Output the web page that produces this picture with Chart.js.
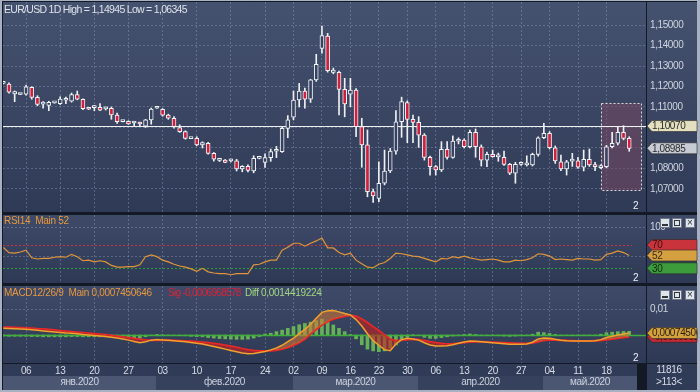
<!DOCTYPE html>
<html>
<head>
<meta charset="utf-8">
<script src="https://cdn.jsdelivr.net/npm/chart.js@4.4.0/dist/chart.umd.min.js"></script>
<style>
  html, body { margin: 0; padding: 0; }
  body { width: 700px; height: 392px; background: #a7b1c2; position: relative; overflow: hidden;
         font-family: "Liberation Sans", Arial, sans-serif; }
  .abs { position: absolute; }
  #frame { left: 2px; top: 1px; width: 695px; height: 389px; background: #141926; }
  .bgMain { background: linear-gradient(#45526f, #2f3a56); }
  .bgSub { background: linear-gradient(#3e4a68, #2e3955); }
  canvas { position: absolute; left: 0; }
  .txt { position: absolute; white-space: nowrap; font-size: 10px; line-height: 12px; letter-spacing: -0.3px; }
  .btn { position: absolute; width: 10px; height: 10px; background: #dfe3ea; border: 1px solid #6f7786; box-sizing: border-box; }
  .btn.min::after { content: ""; position: absolute; left: 1px; right: 1px; bottom: 1px; height: 2px; background: #30343c; }
  .btn.max::after { content: ""; position: absolute; left: 1px; top: 1px; width: 4px; height: 4px; border: 1px solid #30343c; }
  .btn.cls { font-size: 10px; line-height: 8px; text-align: center; color: #30343c; }
</style>
</head>
<body>
<div id="frame" class="abs"></div>
<div class="abs bgMain" style="left:3px;top:2px;width:643px;height:210px"></div>
<div class="abs bgMain" style="left:647px;top:2px;width:50px;height:210px"></div>
<div class="abs bgSub" style="left:3px;top:215px;width:643px;height:68px"></div>
<div class="abs bgSub" style="left:647px;top:215px;width:50px;height:68px"></div>
<div class="abs bgSub" style="left:3px;top:286px;width:643px;height:77px"></div>
<div class="abs bgSub" style="left:647px;top:286px;width:50px;height:77px"></div>
<div class="abs" style="left:3px;top:364px;width:634px;height:26px;background:#303b57"></div>
<div class="abs" style="left:647px;top:364px;width:50px;height:26px;background:#303b57"></div>

<canvas id="mainCanvas" width="700" height="213" style="top:0"></canvas>
<canvas id="rsiCanvas" width="700" height="72" style="top:213px"></canvas>
<canvas id="macdCanvas" width="700" height="107" style="top:285px"></canvas>

<div class="txt" style="left:4px;top:3px;font-size:10.5px;letter-spacing:-0.7px;color:#dde2ea">EUR/USD 1D High = 1,14945 Low = 1,06345</div>
<div class="txt" style="left:4px;top:215px;color:#e8983c">RSI14&nbsp; Main 52</div>
<div class="txt" style="left:4px;top:287px;color:#e8983c">MACD12/26/9&nbsp; Main 0,0007450646</div>
<div class="txt" style="left:168px;top:287px;letter-spacing:-0.7px;color:#d8243a">Sig -0,0006968578</div>
<div class="txt" style="left:245px;top:287px;color:#a4d880">Diff 0,0014419224</div>
<div class="txt" style="left:633px;top:200px;color:#eef0f4">2</div>
<div class="txt" style="left:633px;top:272px;color:#eef0f4">2</div>
<div class="txt" style="left:633px;top:352px;color:#eef0f4">2</div>
<div class="txt" style="left:652px;top:364px;width:34px;text-align:center;color:#d8dce6">11816</div>
<div class="txt" style="left:652px;top:376px;width:34px;text-align:center;color:#d8dce6">&gt;113&lt;</div>

<div class="btn min" style="left:660px;top:218px"></div>
<div class="btn max" style="left:672px;top:218px"></div>
<div class="btn cls" style="left:685px;top:218px">×</div>
<div class="btn min" style="left:660px;top:290px"></div>
<div class="btn max" style="left:672px;top:290px"></div>
<div class="btn cls" style="left:685px;top:290px">×</div>

<script>
// EUR/USD дневные свечи, 111 баров (янв - май 2020)
const open = [1.1215,1.1212,1.1164,1.1161,1.1162,1.1196,1.1147,1.1114,1.1108,1.1120,
  1.1116,1.1133,1.1128,1.1160,1.1138,1.1091,1.1097,1.1098,1.1091,1.1094,
  1.1061,1.1029,1.1030,1.1022,1.1023,1.1007,1.1037,1.1094,1.1089,1.1061,
  1.1045,1.0999,1.0980,1.0946,1.0947,1.0915,1.0923,1.0874,1.0840,1.0841,
  1.0837,1.0837,1.0798,1.0810,1.0788,1.0849,1.0830,1.0853,1.0884,1.0882,
  1.0996,1.1050,1.1134,1.1178,1.1138,1.1232,1.1386,1.1446,1.1269,1.1269,
  1.1186,1.1162,1.1183,1.1004,1.0915,1.0687,1.0654,1.0728,1.0788,1.0885,
  1.1028,1.1121,1.1040,1.1025,1.0963,1.0854,1.0809,1.0793,1.0893,1.0854,
  1.0933,1.0939,1.0906,1.0977,1.0906,1.0841,1.0869,1.0857,1.0854,1.0820,
  1.0777,1.0820,1.0817,1.0817,1.0869,1.0950,1.0972,1.0901,1.0833,1.0798,
  1.0836,1.0837,1.0807,1.0845,1.0817,1.0804,1.0809,1.0906,1.0923,1.0977,1.0947];
const high = [1.1220,1.1218,1.1178,1.1165,1.1207,1.1199,1.1155,1.1126,1.1128,1.1124,
  1.1150,1.1148,1.1168,1.1178,1.1140,1.1093,1.1108,1.1117,1.1100,1.1100,
  1.1070,1.1033,1.1033,1.1030,1.1027,1.1040,1.1095,1.1098,1.1092,1.1065,
  1.1053,1.1013,1.0984,1.0950,1.0955,1.0930,1.0928,1.0878,1.0850,1.0844,
  1.0846,1.0845,1.0814,1.0818,1.0862,1.0853,1.0872,1.0895,1.0908,1.1005,
  1.1058,1.1178,1.1215,1.1192,1.1235,1.1357,1.1495,1.1459,1.1290,1.1275,
  1.1240,1.1240,1.1190,1.1045,1.0988,1.0700,1.0833,1.0890,1.0898,1.1083,
  1.1148,1.1130,1.1061,1.1053,1.0970,1.0860,1.0815,1.0931,1.0931,1.0959,
  1.0950,1.0945,1.0988,1.0993,1.0915,1.0880,1.0890,1.0875,1.0885,1.0825,
  1.0830,1.0832,1.0862,1.0875,1.0955,1.1020,1.0980,1.0910,1.0865,1.0840,
  1.0874,1.0855,1.0890,1.0895,1.0830,1.0818,1.0913,1.0977,1.1001,1.1009,1.0955];
const low = [1.1212,1.1168,1.1126,1.1160,1.1158,1.1138,1.1106,1.1094,1.1082,1.1118,
  1.1112,1.1116,1.1124,1.1135,1.1087,1.1087,1.1082,1.1082,1.1085,1.1040,
  1.1020,1.1027,1.1015,1.1008,1.1005,1.1000,1.1016,1.1093,1.1055,1.1040,
  1.0997,1.0976,1.0943,1.0945,1.0911,1.0900,1.0870,1.0836,1.0834,1.0828,
  1.0832,1.0788,1.0784,1.0783,1.0779,1.0847,1.0805,1.0835,1.0853,1.0878,
  1.0950,1.1037,1.1100,1.1094,1.1122,1.1225,1.1362,1.1270,1.1262,1.1061,
  1.1052,1.1101,1.0955,1.0806,1.0662,1.0634,1.0638,1.0720,1.0780,1.0870,
  1.0952,1.0926,1.0926,1.0903,1.0841,1.0768,1.0768,1.0785,1.0845,1.0850,
  1.0920,1.0900,1.0900,1.0855,1.0812,1.0809,1.0855,1.0835,1.0815,1.0770,
  1.0728,1.0815,1.0812,1.0812,1.0860,1.0945,1.0895,1.0825,1.0790,1.0768,
  1.0810,1.0800,1.0788,1.0810,1.0790,1.0800,1.0803,1.0900,1.0915,1.0940,1.0884];
const close = [1.1217,1.1172,1.1175,1.1163,1.1199,1.1147,1.1113,1.1116,1.1123,1.1122,
  1.1139,1.1135,1.1160,1.1138,1.1092,1.1089,1.1099,1.1085,1.1093,1.1061,
  1.1028,1.1031,1.1018,1.1024,1.1017,1.1037,1.1090,1.1096,1.1060,1.1045,
  1.1004,1.0980,1.0947,1.0948,1.0915,1.0926,1.0874,1.0846,1.0842,1.0830,
  1.0839,1.0798,1.0810,1.0791,1.0850,1.0851,1.0853,1.0882,1.0886,1.0996,
  1.1037,1.1134,1.1178,1.1138,1.1232,1.1308,1.1448,1.1277,1.1280,1.1186,
  1.1115,1.1183,1.1004,1.0915,1.0687,1.0666,1.0728,1.0788,1.0885,1.1028,
  1.1126,1.1040,1.1025,1.0963,1.0854,1.0809,1.0793,1.0893,1.0854,1.0934,
  1.0935,1.0906,1.0977,1.0906,1.0841,1.0869,1.0858,1.0859,1.0820,1.0777,
  1.0820,1.0828,1.0828,1.0869,1.0950,1.0972,1.0901,1.0837,1.0798,1.0833,
  1.0838,1.0807,1.0845,1.0817,1.0809,1.0812,1.0906,1.0923,1.0977,1.0947,1.08985];

// RSI(14)
const rsi = [66,57,56,58,61,48,46,47,47,49, 50,49,54,50,43,44,41,43,41,35,
  32,32,33,33,36,50,53,50,44,41, 37,34,32,29,25,30,24,22,21,21,
  19,21,21,21,36,37,41,44,44,61, 66,73,73,68,73,77,82,65,65,57,
  53,56,44,38,32,31,37,40,47,56, 55,53,51,50,47,44,41,47,46,50,
  48,51,48,46,44,45,46,44,41,41, 44,43,45,48,55,54,51,45,46,45,
  44,47,46,46,44,45,54,56,60,57,52];

// MACD(12,26,9): основная, сигнальная, гистограмма
const macdMain = [.0026,.0025,.0024,.0023,.0022,.0020,.0018,.0016,.0014,.0012,
  .0010,.0008,.0007,.0005,.0002,.0000,-.0002,-.0004,-.0006,-.0009,
  -.0012,-.0016,-.0020,-.0025,-.0030,-.0026,-.0020,-.0018,-.0019,-.0020,
  -.0022,-.0024,-.0026,-.0029,-.0032,-.0035,-.0040,-.0045,-.0050,-.0055,
  -.0060,-.0065,-.0070,-.0073,-.0072,-.0068,-.0064,-.0058,-.0050,-.0040,
  -.0026,-.0012,.0005,.0022,.0042,.0065,.0088,.0094,.0095,.0090,
  .0084,.0078,.0060,.0035,.0005,-.0022,-.0040,-.0057,-.0061,-.0035,
  -.0018,-.0013,-.0016,-.0020,-.0030,-.0039,-.0043,-.0043,-.0042,-.0038,
  -.0032,-.0027,-.0023,-.0024,-.0026,-.0028,-.0030,-.0032,-.0034,-.0036,
  -.0036,-.0036,-.0035,-.0028,-.0015,-.0012,-.0013,-.0017,-.0020,-.0022,
  -.0023,-.0023,-.0023,-.0023,-.0022,-.0018,-.0010,-.0005,.0000,.0004,.0007450646];
const macdSig = [.0030,.0030,.0029,.0028,.0027,.0026,.0024,.0023,.0021,.0019,
  .0017,.0015,.0013,.0011,.0009,.0007,.0005,.0003,.0001,-.0002,
  -.0005,-.0008,-.0011,-.0014,-.0017,-.0019,-.0020,-.0020,-.0020,-.0020,
  -.0021,-.0022,-.0023,-.0024,-.0026,-.0028,-.0030,-.0033,-.0036,-.0040,
  -.0044,-.0048,-.0053,-.0057,-.0060,-.0062,-.0062,-.0061,-.0059,-.0055,
  -.0049,-.0040,-.0030,-.0016,.0005,.0022,.0039,.0052,.0062,.0068,
  .0073,.0077,.0073,.0062,.0048,.0032,.0017,.0000,-.0016,-.0022,
  -.0020,-.0018,-.0017,-.0018,-.0021,-.0026,-.0030,-.0033,-.0035,-.0034,
  -.0032,-.0029,-.0027,-.0026,-.0026,-.0027,-.0028,-.0029,-.0030,-.0031,
  -.0032,-.0033,-.0033,-.0031,-.0026,-.0021,-.0019,-.0019,-.0020,-.0021,
  -.0022,-.0023,-.0023,-.0023,-.0022,-.0021,-.0019,-.0016,-.0013,-.0010,-.0006968578];
const macdDiff = [-.0004,-.0005,-.0005,-.0005,-.0005,-.0006,-.0006,-.0007,-.0007,-.0007,
  -.0007,-.0007,-.0006,-.0006,-.0007,-.0007,-.0007,-.0007,-.0007,-.0007,
  -.0007,-.0008,-.0009,-.0011,-.0013,-.0007,.0000,.0002,.0001,.0000,
  -.0001,-.0002,-.0003,-.0005,-.0006,-.0007,-.0010,-.0012,-.0014,-.0015,
  -.0016,-.0017,-.0017,-.0016,-.0012,-.0006,.0004,.0007,.0013,.0019,
  .0026,.0033,.0040,.0045,.0050,.0056,.0061,.0052,.0039,.0026,
  .0013,.0002,-.0015,-.0038,-.0055,-.0062,-.0065,-.0062,-.0052,-.0039,
  -.0020,-.0009,.0001,-.0002,-.0009,-.0013,-.0013,-.0010,-.0007,-.0004,
  .0000,.0002,.0004,.0002,.0000,-.0001,-.0002,-.0003,-.0004,-.0005,
  -.0004,-.0003,-.0002,.0003,.0011,.0009,.0006,.0002,.0000,-.0001,
  -.0001,.0000,.0000,.0000,.0000,.0003,.0009,.0011,.0013,.0014,.0014419224];

// подписи оси времени (номер бара -> число)
const dateTickIdx = [4,10,16,22,28,34,40,46,51,56,61,66,71,76,81,86,91,96,101,106];
const dateTickText = ['06','13','20','27','03','10','17','24','02','09','16','23','30','06','13','20','27','04','11','18'];
const months = ['янв.2020','фев.2020','мар.2020','апр.2020','май.2020'];
const monthEdges = [-0.6, 26.9, 50.9, 72.9, 94.9, 111.4];

const priceTicks = [1.07,1.08,1.09,1.10,1.11,1.12,1.13,1.14,1.15];
const levelPrice = 1.1007;           // горизонтальная линия
const selBox = { from: 105, to: 112, top: 1.1118, bottom: 1.0695 };
const rsiLevels = { hi: 70, lo: 30 };

const X_MIN = -0.05, X_MAX = 112.95;
const GRID = 'rgba(150,168,200,0.38)';
const FONT = { family: '"Liberation Sans", Arial, sans-serif', size: 10 };
const idx = close.map((_, i) => i);

function xAxis(showLabels, height) {
  return {
    type: 'linear', min: X_MIN, max: X_MAX, offset: false,
    afterBuildTicks: s => { s.ticks = dateTickIdx.map(v => ({ value: v })); },
    afterFit: s => { s.height = height; },
    grid: { color: GRID, drawTicks: false, offset: false },
    border: { display: false, dash: [2, 2] },
    ticks: { display: showLabels, autoSkip: false, maxRotation: 0, padding: 2, color: '#d6dbe4', font: FONT,
      callback: (v, k) => dateTickText[k] }
  };
}

function yAxis(min, max, ticks, fmt) {
  return {
    position: 'right', min: min, max: max,
    afterBuildTicks: s => { s.ticks = ticks.map(v => ({ value: v })); },
    // без запаса под крайние подписи
    afterFit: s => { s.width = 51; s.paddingTop = 0; s.paddingBottom = 0; },
    grid: { color: GRID, drawTicks: false },
    border: { display: false, dash: [2, 2] },
    ticks: { padding: 4, color: '#cfd5df', font: FONT, callback: fmt }
  };
}

// ярлык с "клювом" на правой шкале
function drawTag(ctx, yc, fill, text, textColor) {
  const x0 = 647, x1 = 697, h = 11;
  ctx.save();
  ctx.beginPath();
  ctx.moveTo(x0, yc);
  ctx.lineTo(x0 + 5, yc - h / 2);
  ctx.lineTo(x1, yc - h / 2);
  ctx.lineTo(x1, yc + h / 2);
  ctx.lineTo(x0 + 5, yc + h / 2);
  ctx.closePath();
  ctx.fillStyle = fill;
  ctx.fill();
  ctx.strokeStyle = 'rgba(40,40,40,0.6)';
  ctx.lineWidth = 1;
  ctx.stroke();
  ctx.clip();
  ctx.fillStyle = textColor;
  ctx.font = '10px "Liberation Sans", Arial, sans-serif';
  ctx.textBaseline = 'middle';
  ctx.fillText(text, x0 + 5, yc + 0.5);
  ctx.restore();
}

// узкий шрифт для подписей на холстах
const tightText = {
  id: 'tightText',
  beforeDraw(chart) { chart.ctx.letterSpacing = '-0.4px'; }
};

const base = {
  responsive: false, animation: false, events: [],
  plugins: { legend: { display: false }, tooltip: { enabled: false } }
};

// основной график: свечи
const mainOverlay = {
  id: 'mainOverlay',
  beforeDatasetsDraw(chart) {
    const { ctx, chartArea: a, scales: { x, y } } = chart;
    const x0 = Math.round(x.getPixelForValue(selBox.from)) + 0.5;
    const x1 = Math.round(x.getPixelForValue(selBox.to)) + 0.5;
    const y0 = Math.round(y.getPixelForValue(selBox.top)) + 0.5;
    const y1 = Math.round(y.getPixelForValue(selBox.bottom)) + 0.5;
    ctx.save();
    ctx.fillStyle = 'rgba(125,72,98,0.5)';
    ctx.fillRect(x0, y0, x1 - x0, y1 - y0);
    ctx.setLineDash([2, 2]);
    ctx.strokeStyle = 'rgba(235,235,240,0.9)';
    ctx.lineWidth = 1;
    ctx.strokeRect(x0, y0, x1 - x0, y1 - y0);
    ctx.setLineDash([]);
    const ly = Math.round(y.getPixelForValue(levelPrice)) + 0.5;
    ctx.strokeStyle = '#f0f0f0';
    ctx.beginPath();
    ctx.moveTo(a.left, ly);
    ctx.lineTo(a.right, ly);
    ctx.stroke();
    ctx.restore();
  },
  afterDraw(chart) {
    const y = chart.scales.y;
    const fmt = v => v.toFixed(5).replace('.', ',');
    drawTag(chart.ctx, y.getPixelForValue(levelPrice), '#e4e0bf', fmt(levelPrice), '#2a2a2a');
    drawTag(chart.ctx, y.getPixelForValue(close[close.length - 1]), '#c6cbd4', fmt(close[close.length - 1]), '#2a2a2a');
  }
};

new Chart(document.getElementById('mainCanvas'), {
  type: 'bar',
  data: {
    datasets: [
      {
        label: 'body',
        data: idx.map(i => ({ x: i, y: [Math.min(open[i], close[i]), Math.max(open[i], close[i])] })),
        backgroundColor: idx.map(i => close[i] >= open[i] ? '#36425f' : '#d21f3c'),
        borderColor: '#f2f4f8', borderWidth: 1, borderSkipped: false,
        barThickness: 4, minBarLength: 2, grouped: false
      },
      {
        label: 'wick',
        data: idx.map(i => ({ x: i, y: [low[i], high[i]] })),
        backgroundColor: '#eef0f4', borderWidth: 0, barThickness: 1, grouped: false
      }
    ]
  },
  options: {
    ...base,
    layout: { padding: { left: 3, right: 3, top: 2, bottom: 1 } },
    scales: {
      x: xAxis(false, 0),
      y: yAxis(1.05878, 1.16122, priceTicks, v => v.toFixed(5).replace('.', ','))
    }
  },
  plugins: [tightText, mainOverlay]
});

// RSI
const rsiOverlay = {
  id: 'rsiOverlay',
  beforeDatasetsDraw(chart) {
    const { ctx, chartArea: a, scales: { x, y } } = chart;
    const xEnd = x.getPixelForValue(rsi.length - 0.5);
    ctx.save();
    ctx.setLineDash([2, 2]);
    ctx.lineWidth = 1;
    [[rsiLevels.hi, '#c8323c'], [rsiLevels.lo, '#2f9a3a']].forEach(([v, c]) => {
      const yy = Math.round(y.getPixelForValue(v)) + 0.5;
      ctx.strokeStyle = c;
      ctx.beginPath();
      ctx.moveTo(a.left, yy);
      ctx.lineTo(xEnd, yy);
      ctx.stroke();
    });
    ctx.restore();
  },
  afterDraw(chart) {
    const y = chart.scales.y;
    drawTag(chart.ctx, y.getPixelForValue(rsiLevels.hi), '#c9343c', String(rsiLevels.hi), '#3a1010');
    drawTag(chart.ctx, y.getPixelForValue(rsiLevels.lo), '#3c9c3c', String(rsiLevels.lo), '#102a10');
    drawTag(chart.ctx, y.getPixelForValue(rsi[rsi.length - 1]), '#d4a040', String(rsi[rsi.length - 1]), '#3a2a10');
  }
};

new Chart(document.getElementById('rsiCanvas'), {
  type: 'line',
  data: {
    datasets: [{
      data: idx.map(i => ({ x: i, y: rsi[i] })),
      borderColor: '#e0953a', borderWidth: 1.2, pointRadius: 0, tension: 0
    }]
  },
  options: {
    ...base,
    layout: { padding: { left: 3, right: 3, top: 2, bottom: 2 } },
    scales: {
      x: xAxis(false, 0),
      y: yAxis(4.8, 121.5, [50, 100], v => String(v))
    }
  },
  plugins: [tightText, rsiOverlay]
});

// MACD
const macdOverlay = {
  id: 'macdOverlay',
  afterDatasetDraw(chart, args) {
    if (args.index !== 2) return;
    const { ctx, chartArea: a, scales: { y } } = chart;
    const yy = Math.round(y.getPixelForValue(0)) + 0.5;
    ctx.save();
    ctx.strokeStyle = '#3fae3a';
    ctx.lineWidth = 1.5;
    ctx.beginPath();
    ctx.moveTo(a.left, yy);
    ctx.lineTo(a.right, yy);
    ctx.stroke();
    ctx.restore();
  },
  afterDraw(chart) {
    const { ctx, chartArea: a, scales: { x, y } } = chart;
    // полоса месяцев
    const top = a.bottom + 13;
    ctx.save();
    ctx.font = '10px "Liberation Sans", Arial, sans-serif';
    ctx.textAlign = 'center';
    ctx.textBaseline = 'middle';
    months.forEach((m, k) => {
      const x0 = Math.max(a.left, Math.round(x.getPixelForValue(monthEdges[k])));
      const x1 = Math.round(x.getPixelForValue(monthEdges[k + 1]));
      ctx.fillStyle = k % 2 === 0 ? '#4a5672' : '#35415d';
      ctx.fillRect(x0, top, x1 - x0, 14);
      ctx.fillStyle = '#cdd3de';
      ctx.fillText(m, (x0 + x1) / 2, top + 6);
    });
    ctx.restore();
    const last = macdMain.length - 1;
    drawTag(ctx, y.getPixelForValue(macdSig[last]), '#c52a34', String(macdSig[last]).replace('.', ','), '#3a1010');
    drawTag(ctx, y.getPixelForValue(macdMain[last]), '#d3a23f', String(macdMain[last]).replace('.', ','), '#2a1f08');
  }
};

new Chart(document.getElementById('macdCanvas'), {
  type: 'bar',
  data: {
    datasets: [
      {
        type: 'line', label: 'Main',
        data: idx.map(i => ({ x: i, y: macdMain[i] })),
        borderColor: '#f0a12e', borderWidth: 1.5, pointRadius: 0, tension: 0,
        fill: { target: 1, above: 'rgba(214,120,52,0.55)', below: 'rgba(196,34,34,0.6)' },
        order: 0
      },
      {
        type: 'line', label: 'Sig',
        data: idx.map(i => ({ x: i, y: macdSig[i] })),
        borderColor: '#e8262a', borderWidth: 2, pointRadius: 0, tension: 0,
        order: 1
      },
      {
        type: 'bar', label: 'Diff',
        data: idx.map(i => ({ x: i, y: macdDiff[i] })),
        backgroundColor: 'rgba(108,190,86,0.9)', barThickness: 3, grouped: false,
        order: 2
      }
    ]
  },
  options: {
    ...base,
    layout: { padding: { left: 3, right: 3, top: 1, bottom: 0 } },
    scales: {
      x: xAxis(true, 29),
      y: yAxis(-0.0109, 0.01907, [0.01], () => '0,01')
    }
  },
  plugins: [tightText, macdOverlay]
});
</script>
</body>
</html>
